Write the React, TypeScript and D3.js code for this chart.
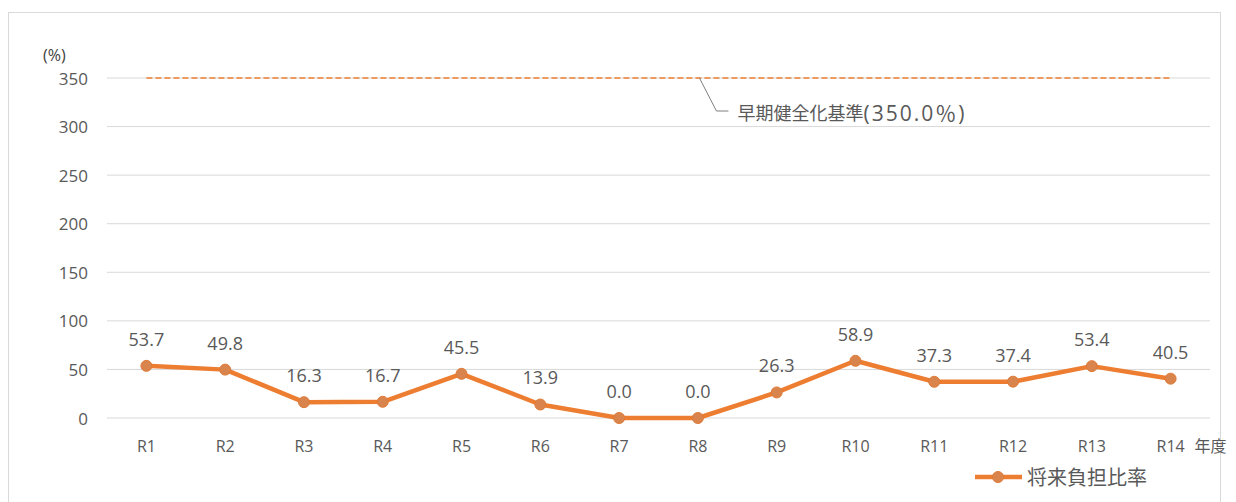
import * as d3 from "d3";

const categories = ["R1", "R2", "R3", "R4", "R5", "R6", "R7", "R8", "R9", "R10", "R11", "R12", "R13", "R14"];
const ratioValues = [53.7, 49.8, 16.3, 16.7, 45.5, 13.9, 0.0, 0.0, 26.3, 58.9, 37.3, 37.4, 53.4, 40.5];
const yTicks = [0, 50, 100, 150, 200, 250, 300, 350];
const threshold = 350;

const WIDTH = 1236;
const HEIGHT = 502;
const MARGIN = { top: 78, right: 26, bottom: 84, left: 107 };
const ORANGE = "#ED7D31";
const TEXT = "#595959";
const FONT = "'Open Sans', 'Noto Sans CJK JP', sans-serif";

const App = () => {
  const boundsWidth = WIDTH - MARGIN.left - MARGIN.right;
  const boundsHeight = HEIGHT - MARGIN.top - MARGIN.bottom;

  const xScale = d3.scaleBand().domain(categories).range([0, boundsWidth]);
  const yScale = d3.scaleLinear().domain([0, 350]).range([boundsHeight, 0]);
  const cx = (c: string) => (xScale(c) ?? 0) + xScale.bandwidth() / 2;

  const line = d3
    .line<number>()
    .x((_, i) => cx(categories[i]))
    .y((d) => yScale(d));

  const first = cx(categories[0]);
  const last = cx(categories[categories.length - 1]);
  const calloutX = first + (last - first) * 0.54;

  return (
    <svg width={WIDTH} height={HEIGHT} style={{ position: "absolute", left: 0, top: 0 }} fontFamily={FONT}>
      <rect x={8.5} y={12.5} width={1212} height={500} fill="white" stroke="#d9d9d9" />
      <text x={43} y={55} dominantBaseline="central" fontSize={16} fill="#404040">(%)</text>
      <g transform={`translate(${MARGIN.left},${MARGIN.top})`}>
        {yTicks.map((t) => (
          <g key={t}>
            <line x1={0} x2={boundsWidth} y1={yScale(t)} y2={yScale(t)} stroke="#d9d9d9" strokeWidth={1} />
            <text x={-19} y={yScale(t)} textAnchor="end" dominantBaseline="central" fontSize={17} fill={TEXT}>
              {t}
            </text>
          </g>
        ))}
        <line
          x1={first}
          x2={last}
          y1={yScale(threshold)}
          y2={yScale(threshold)}
          stroke={ORANGE}
          strokeWidth={1.5}
          strokeDasharray="6 3"
        />
        <path
          d={`M${calloutX},${yScale(threshold)} L${calloutX + 17},${yScale(threshold) + 33} L${calloutX + 29},${yScale(threshold) + 33}`}
          fill="none"
          stroke="#7f7f7f"
          strokeWidth={1}
        />
        <text x={calloutX + 38} y={yScale(threshold) + 35} dominantBaseline="central" fontSize={18} fill={TEXT}>
          <tspan>早期健全化基準</tspan>
          <tspan fontSize={21} letterSpacing={2}>(350.0％)</tspan>
        </text>
        <path d={line(ratioValues) ?? ""} fill="none" stroke={ORANGE} strokeWidth={4.5} strokeLinejoin="round" />
        {ratioValues.map((v, i) => (
          <g key={categories[i]}>
            <circle cx={cx(categories[i])} cy={yScale(v)} r={5.5} fill="#D9844D" stroke="#E07A36" strokeWidth={1} />
            <text
              x={cx(categories[i])}
              y={yScale(v) - 27}
              textAnchor="middle"
              dominantBaseline="central"
              fontSize={18}
              fill={TEXT}
            >
              {v.toFixed(1)}
            </text>
          </g>
        ))}
        {categories.map((c) => (
          <text key={c} x={cx(c)} y={boundsHeight + 28} textAnchor="middle" dominantBaseline="central" fontSize={16} fill={TEXT}>
            {c}
          </text>
        ))}
        <text x={last + 24} y={boundsHeight + 28} dominantBaseline="central" fontSize={16} fill={TEXT}>
          年度
        </text>
      </g>
      <g transform="translate(975,477)">
        <line x1={0} x2={47} y1={0} y2={0} stroke={ORANGE} strokeWidth={4.5} />
        <circle cx={23} cy={0} r={5.5} fill="#D9844D" stroke="#E07A36" />
        <text x={52} y={0} dominantBaseline="central" fontSize={20} fill={TEXT}>
          将来負担比率
        </text>
      </g>
    </svg>
  );
};

export default App;
